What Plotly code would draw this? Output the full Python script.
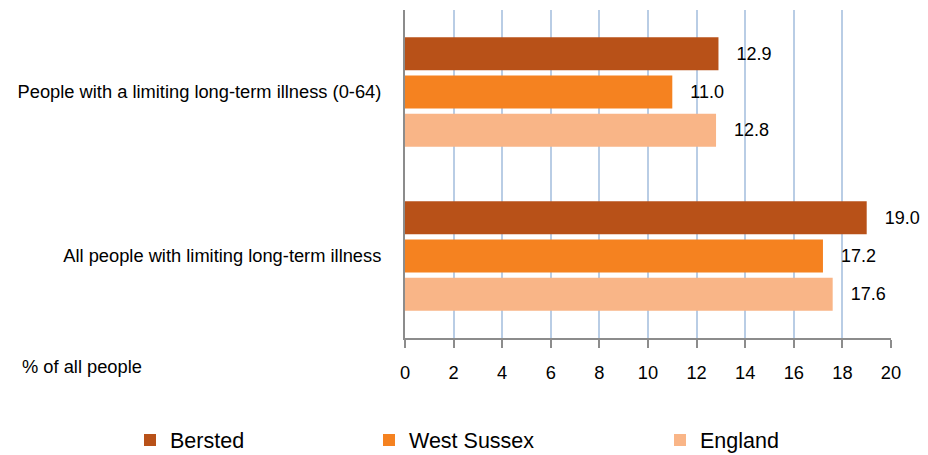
import plotly.graph_objects as go

categories = ["People with a limiting long-term illness (0-64)",
              "All people with limiting long-term illness"]
series_names = ["Bersted", "West Sussex", "England"]
bersted = [12.9, 19.0]
west_sussex = [11.0, 17.2]
england = [12.8, 17.6]
x_ticks = [0, 2, 4, 6, 8, 10, 12, 14, 16, 18, 20]
colors = ["#B85118", "#F58220", "#F9B587"]

W, H = 928, 455
L, R, T, B = 405, 37, 10, 117
pw, ph = W - L - R, H - T - B
FAM = "Liberation Sans, Arial, sans-serif"

fig = go.Figure()
legend_ids = ["legend", "legend2", "legend3"]
for name, vals, col, lg in zip(series_names, [bersted, west_sussex, england], colors, legend_ids):
    fig.add_trace(go.Bar(
        name=name, y=categories, x=vals, orientation="h",
        marker=dict(color=col, line=dict(width=0)),
        text=["\u00a0\u00a0\u00a0" + f"{v:.1f}" for v in vals],
        textposition="outside", cliponaxis=False,
        textfont=dict(size=18, color="#000000", family=FAM),
        legend=lg,
    ))

font = dict(family=FAM, size=18.3, color="#000000")
leg_y = (H - B - 440) / ph
def leg(px):
    return dict(x=(px - L) / pw, xanchor="left", y=leg_y, yanchor="middle",
                orientation="h", bgcolor="rgba(0,0,0,0)",
                font=dict(family=FAM, size=21.5, color="#000000"))

fig.update_layout(
    width=W, height=H,
    margin=dict(l=L, r=R, t=T, b=B, pad=0, autoexpand=False),
    paper_bgcolor="white", plot_bgcolor="white",
    font=font,
    barmode="group", bargap=0.3, bargroupgap=0.14,
    showlegend=True,
    legend=leg(130), legend2=leg(369), legend3=leg(660),
    xaxis=dict(range=[0, 20], tickvals=x_ticks, showgrid=True,
               gridcolor="#B9CDE5", gridwidth=1.5, zeroline=False,
               showline=True, linecolor="#8C8C8C", linewidth=1.5,
               ticks="outside", ticklen=8, tickcolor="#8C8C8C", tickwidth=1.5,
               ticklabelstandoff=9, tickfont=font, automargin=False),
    yaxis=dict(type="category", autorange="reversed", showgrid=False,
               showline=True, linecolor="#8C8C8C", linewidth=2,
               ticks="", ticklabelstandoff=18, tickfont=font, automargin=False),
    annotations=[dict(text="% of all people", xref="paper", yref="paper",
                      x=(20 - L) / pw, xanchor="left", y=(H - B - 366) / ph,
                      yanchor="middle", showarrow=False, font=font)],
)

fig.write_html("out.html", config={"displayModeBar": False},
               post_script="document.body.style.margin='0';document.body.style.padding='0';document.body.style.overflow='hidden';")
